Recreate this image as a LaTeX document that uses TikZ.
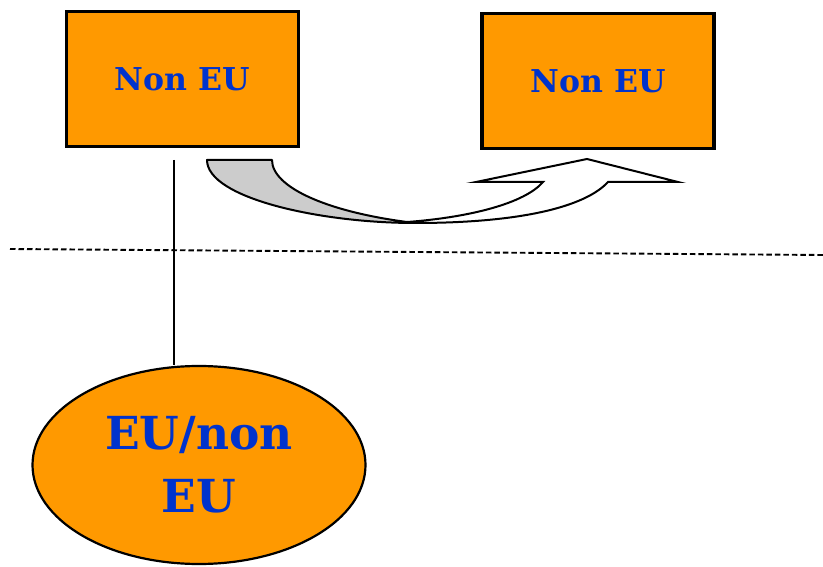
\documentclass[tikz,border=0pt]{standalone}
\usepackage{fontspec}
\setmainfont{DejaVu Serif}
\usetikzlibrary{shapes.geometric}
\definecolor{boxorange}{RGB}{255,153,0}
\definecolor{labelblue}{RGB}{0,51,204}
\definecolor{bandgray}{RGB}{204,204,204}
\tikzset{
  regionbox/.style={draw=black, line width=3.2pt, fill=boxorange, inner sep=0pt,
    minimum width=232pt, minimum height=135pt,
    font=\fontsize{31.5}{38}\selectfont\bfseries, text=labelblue},
  regionoval/.style={ellipse, draw=black, line width=2.2pt, fill=boxorange, inner sep=0pt,
    minimum width=333pt, minimum height=198pt, align=center,
    font=\fontsize{45.5}{63.4}\selectfont\bfseries, text=labelblue},
  link/.style={line width=2.4pt},
  divider/.style={line width=1.9pt, dash pattern=on 5.5pt off 3pt},
  bandback/.style={draw=black, line width=2pt, fill=bandgray, line join=round},
  bandfront/.style={draw=black, line width=2pt, fill=white, line join=miter}
}
\begin{document}
\begin{tikzpicture}[x=1pt, y=-1pt]
  \useasboundingbox (0,0) rectangle (823,567);

  % the two boxes and the oval
  \node[regionbox] (src) at (182.5,79) {Non EU};
  \node[regionbox] (dst) at (598,81) {Non EU};
  \node[regionoval] (eu) at (199,465) {EU/non\\EU};

  % dashed divider
  \coordinate (dl) at (10,249);
  \coordinate (dr) at (823,255);
  \draw[divider] (dl) -- (dr);

  % vertical link from the first box down to the oval
  \coordinate (lt) at (174,160);
  \draw[link] (lt) -- (lt |- eu.north);

  % curved block arrow: grey back face
  \coordinate (ol) at (207,160);
  \coordinate (il) at (272,160);
  \coordinate (bot) at (415,223);
  \draw[bandback] (ol) -- (il)
    .. controls (272,188) and (330,213) .. (bot)
    .. controls (320,223) and (207,198) .. (ol) -- cycle;

  % curved block arrow: white front face with the head
  \coordinate (ub) at (400,222.5);
  \coordinate (nl) at (543,182);
  \coordinate (wl) at (476,182);
  \coordinate (tip) at (587,159);
  \coordinate (wr) at (678,182);
  \coordinate (nr) at (608,182);
  \draw[bandfront] (ub)
    .. controls (470,218) and (525,203) .. (nl)
    -- (wl) -- (tip) -- (wr) -- (nr)
    .. controls (585,207) and (520,223) .. (bot)
    -- cycle;
\end{tikzpicture}
\end{document}
